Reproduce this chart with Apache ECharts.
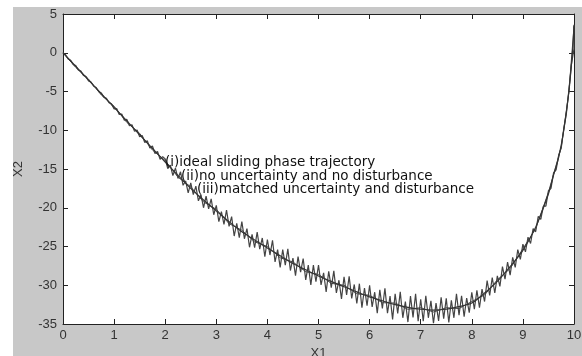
<!DOCTYPE html>
<html>
<head>
<meta charset="utf-8">
<script src="https://cdn.jsdelivr.net/npm/echarts@6/dist/echarts.min.js"></script>
<style>
html,body{margin:0;padding:0;background:#fff;}
#chart{width:582px;height:356px;}
</style>
</head>
<body>
<div id="chart"></div>
<script>
// ---- data ----
const xTicks = [0,1,2,3,4,5,6,7,8,9,10];
const yTicks = [5,0,-5,-10,-15,-20,-25,-30,-35];

// (i) ideal sliding phase trajectory
const x1Ideal = [0,0.25,0.5,0.75,1,1.25,1.5,1.75,2,2.25,2.5,2.75,3,3.25,3.5,3.75,4,4.25,4.5,4.75,5,5.25,5.5,5.75,6,6.25,6.5,6.75,7,7.25,7.5,7.75,8,8.25,8.5,8.75,9,9.25,9.5,9.6,9.7,9.8,9.9,9.95,9.98,10];
const x2Ideal = [0,-1.76,-3.53,-5.29,-7.05,-8.81,-10.58,-12.34,-14.1,-15.82,-17.5,-19.0,-20.4,-21.8,-23.1,-24.15,-25.2,-26.2,-27.2,-28.0,-28.8,-29.5,-30.2,-30.85,-31.5,-32.0,-32.5,-32.85,-33.1,-33.2,-33.1,-32.75,-32.3,-31.0,-29.5,-27.6,-25.5,-22.5,-18.2,-15.8,-13.5,-10.0,-5.0,-1.5,1.0,3.5];

// (ii) no uncertainty and no disturbance
const x1NoDist = [0,0.25,0.5,0.75,1,1.25,1.5,1.75,2,2.25,2.5,2.75,3,3.25,3.5,3.75,4,4.25,4.5,4.75,5,5.25,5.5,5.75,6,6.25,6.5,6.75,7,7.25,7.5,7.75,8,8.25,8.5,8.75,9,9.25,9.5,9.75,9.9,10];
const x2NoDist = [0,-1.9,-3.4,-5.45,-6.9,-9.0,-10.4,-12.55,-13.9,-16.05,-17.3,-19.25,-20.2,-22.05,-22.9,-24.4,-25.0,-26.45,-27.0,-28.25,-28.6,-29.75,-30.0,-31.1,-31.3,-32.25,-32.3,-33.1,-32.9,-33.45,-32.9,-33.0,-32.1,-31.25,-29.3,-27.85,-25.3,-22.7,-18.0,-12.2,-5.1,3.4];

// (iii) matched uncertainty and disturbance
const x1Noisy = [
0,0.05,0.1,0.15,0.2,0.25,0.3,0.35,0.4,0.45,0.5,0.55,0.6,0.65,0.7,0.75,0.8,0.85,0.9,0.95,
1,1.05,1.1,1.15,1.2,1.25,1.3,1.35,1.4,1.45,1.5,1.55,1.6,1.65,1.7,1.75,1.8,1.85,1.9,1.95,
2,2.05,2.1,2.15,2.2,2.25,2.3,2.35,2.4,2.45,2.5,2.55,2.6,2.65,2.7,2.75,2.8,2.85,2.9,2.95,
3,3.05,3.1,3.15,3.2,3.25,3.3,3.35,3.4,3.45,3.5,3.55,3.6,3.65,3.7,3.75,3.8,3.85,3.9,3.95,
4,4.05,4.1,4.15,4.2,4.25,4.3,4.35,4.4,4.45,4.5,4.55,4.6,4.65,4.7,4.75,4.8,4.85,4.9,4.95,
5,5.05,5.1,5.15,5.2,5.25,5.3,5.35,5.4,5.45,5.5,5.55,5.6,5.65,5.7,5.75,5.8,5.85,5.9,5.95,
6,6.05,6.1,6.15,6.2,6.25,6.3,6.35,6.4,6.45,6.5,6.55,6.6,6.65,6.7,6.75,6.8,6.85,6.9,6.95,
7,7.05,7.1,7.15,7.2,7.25,7.3,7.35,7.4,7.45,7.5,7.55,7.6,7.65,7.7,7.75,7.8,7.85,7.9,7.95,
8,8.05,8.1,8.15,8.2,8.25,8.3,8.35,8.4,8.45,8.5,8.55,8.6,8.65,8.7,8.75,8.8,8.85,8.9,8.95,
9,9.05,9.1,9.15,9.2,9.25,9.3,9.35,9.4,9.45,9.5,9.55,9.6,9.65,9.7,9.75,9.8,9.85,9.9,9.95,
10,10];
const x2Noisy = [
0,-0.25,-0.8,-0.96,-1.51,-1.66,-2.22,-2.37,-2.92,-3.07,-3.63,-3.78,-4.33,-4.48,-5.04,-5.19,-5.74,-5.89,-6.45,-6.6,
-7.25,-7.2,-7.96,-7.91,-8.7,-8.6,-9.42,-9.3,-10.13,-9.97,-10.85,-10.68,-11.58,-11.35,-12.3,-12.04,-13.0,-12.74,-13.75,-13.4,
-13.7,-14.95,-14.5,-15.84,-14.88,-16.22,-15.36,-17.1,-16.54,-18.07,-16.8,-18.3,-17.2,-19.1,-18.3,-20.0,-18.5,-20.15,-18.85,-20.9,
-19.7,-21.8,-20.5,-22.15,-20.3,-22.4,-21.15,-23.65,-22.0,-23.85,-21.8,-24.0,-22.7,-25.1,-23.45,-25.15,-23.15,-25.35,-23.9,-26.3,
-24.1,-26.1,-24.2,-27.0,-25.4,-27.7,-25.4,-27.4,-25.3,-28.1,-26.5,-28.75,-26.3,-28.3,-26.55,-29.3,-27.4,-29.95,-27.4,-29.55,
-27.4,-29.95,-28.4,-30.85,-28.2,-30.3,-28.15,-31.0,-29.35,-31.75,-28.9,-31.25,-28.85,-31.7,-29.9,-32.35,-29.8,-32.9,-30.35,-32.65,
-30.0,-32.8,-30.9,-33.6,-30.6,-33.0,-30.4,-33.6,-31.4,-34.4,-31.1,-33.65,-30.85,-34.2,-32.1,-34.75,-31.4,-34.15,-31.1,-34.65,
-31.8,-34.65,-31.35,-34.2,-32.0,-34.9,-32.3,-34.6,-31.55,-34.3,-31.7,-34.8,-31.95,-34.2,-31.1,-33.85,-31.35,-34.05,-31.65,-33.55,
-30.9,-33.1,-30.65,-32.9,-30.5,-32.1,-29.4,-31.3,-29.0,-31.0,-28.8,-30.15,-27.6,-29.2,-27.0,-28.7,-26.4,-27.7,-25.4,-26.65,
-24.7,-25.7,-23.8,-24.6,-22.7,-23.1,-21.1,-21.5,-19.8,-19.8,-17.8,-17.5,-15.5,-15.1,-13.2,-12.3,-9.8,-7.9,-4.8,-1.5,
0.5,3.6];

const annotations = [
  '(i)ideal sliding phase trajectory',
  '(ii)no uncertainty and no disturbance',
  '(iii)matched uncertainty and disturbance'
];

function pairs(xs, ys){ return xs.map((x,i)=>[x, ys[i]]); }

const chart = echarts.init(document.getElementById('chart'), null, {renderer:'canvas'});
const axisCol = '#222';
const font = '"Liberation Sans", Arial, sans-serif';
const annFont = '"DejaVu Sans", sans-serif';

const xAxisCommon = {
  type:'value', min:0, max:10, interval:1,
  axisLine:{show:true, onZero:false, lineStyle:{color:axisCol, width:1}},
  axisTick:{show:true, inside:true, length:5, lineStyle:{color:axisCol}},
  splitLine:{show:false}
};
const yAxisCommon = {
  type:'value', min:-35, max:5, interval:5,
  axisLine:{show:true, onZero:false, lineStyle:{color:axisCol, width:1}},
  axisTick:{show:true, inside:true, length:5, lineStyle:{color:axisCol}},
  splitLine:{show:false}
};

chart.setOption({
  animation:false,
  backgroundColor:'#ffffff',
  graphic:[
    {type:'rect', z:-10, silent:true, shape:{x:13, y:7, width:569, height:349}, style:{fill:'#c8c8c8'}},
    ...annotations.map((t,i)=>({
      type:'text', z:100,
      left:[165,181,197][i], top:[155,169,182][i],
      style:{text:t, font:'13.5px ' + annFont, fill:'#111'}
    }))
  ],
  grid:{left:63, right:8, top:14, bottom:32, containLabel:false, outerBoundsMode:'none',
        show:true, backgroundColor:'#ffffff', borderWidth:0},
  xAxis:[
    Object.assign({}, xAxisCommon, {
      position:'bottom', name:'X1', nameLocation:'middle', nameGap:22,
      nameTextStyle:{color:'#333', fontSize:13, fontFamily:font},
      axisLabel:{color:'#333', fontSize:13, fontFamily:font, margin:5, formatter:v=>xTicks.includes(v)?String(v):''}
    }),
    Object.assign({}, xAxisCommon, {position:'top', axisLabel:{show:false}})
  ],
  yAxis:[
    Object.assign({}, yAxisCommon, {
      position:'left', name:'X2', nameLocation:'middle', nameGap:38,
      nameTextStyle:{color:'#333', fontSize:13, fontFamily:font},
      axisLabel:{color:'#333', fontSize:13, fontFamily:font, margin:6, formatter:v=>yTicks.includes(v)?String(v):''}
    }),
    Object.assign({}, yAxisCommon, {position:'right', axisLabel:{show:false}})
  ],
  series:[
    {type:'line', name:annotations[2], data:pairs(x1Noisy,x2Noisy), showSymbol:false, symbol:'none',
      lineStyle:{color:'#444', width:1.2}, z:2},
    {type:'line', name:annotations[1], data:pairs(x1NoDist,x2NoDist), showSymbol:false, symbol:'none',
      lineStyle:{color:'#444', width:1}, z:3},
    {type:'line', name:annotations[0], data:pairs(x1Ideal,x2Ideal), showSymbol:false, symbol:'none', smooth:0.3,
      lineStyle:{color:'#333', width:1.2}, z:4}
  ]
});
</script>
</body>
</html>
